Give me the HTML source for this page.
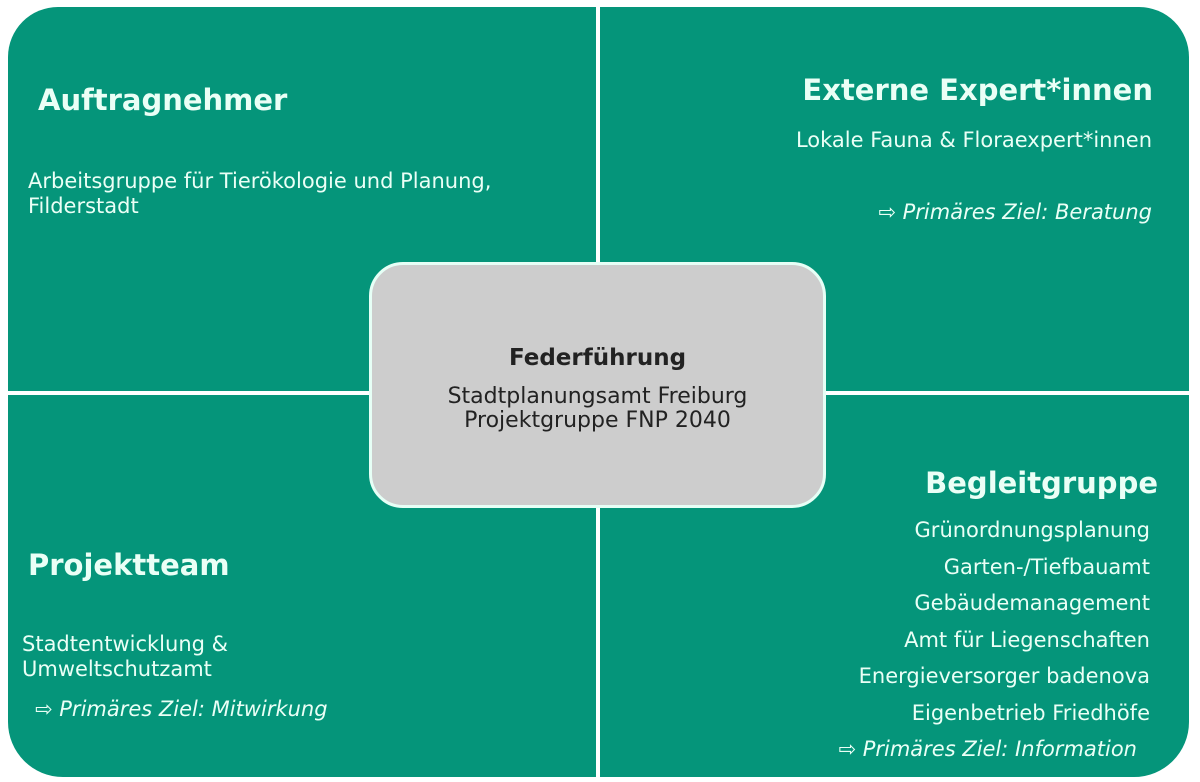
<!DOCTYPE html>
<html><head><meta charset="utf-8"><style>
body{margin:0;width:1200px;height:782px;background:#fff;position:relative;overflow:hidden;font-family:"DejaVu Sans","Liberation Sans",sans-serif;}
.q{position:absolute;background:#05957a;}
.t{position:absolute;color:#eafff6;white-space:nowrap;line-height:30px;}
.h{font-size:29px;font-weight:bold;}
.b{font-size:21px;}
.r{text-align:right;}
.i{font-style:italic;}
</style></head><body>
<div class="q" style="left:8px;top:7px;width:588px;height:384px;border-top-left-radius:50px;"></div>
<div class="q" style="left:600px;top:7px;width:589px;height:384px;border-top-right-radius:50px;"></div>
<div class="q" style="left:8px;top:395px;width:588px;height:382px;border-bottom-left-radius:55px;"></div>
<div class="q" style="left:600px;top:395px;width:589px;height:382px;border-bottom-right-radius:55px;"></div>
<div style="position:absolute;left:369px;top:262px;width:451px;height:240px;background:#cdcdcd;border:3px solid #e6fff6;border-radius:34px;"></div>

<div class="t h" style="left:38px;top:85px;">Auftragnehmer</div>
<div class="t b" style="left:28px;top:169px;line-height:25px;">Arbeitsgruppe für Tierökologie und Planung,<br>Filderstadt</div>

<div class="t h r" style="right:47px;top:75px;">Externe Expert*innen</div>
<div class="t b r" style="right:48px;top:125px;">Lokale Fauna &amp; Floraexpert*innen</div>
<div class="t b r i" style="right:48px;top:197px;">⇨ Primäres Ziel: Beratung</div>

<div class="t" style="left:369px;width:457px;text-align:center;top:343px;font-size:23px;font-weight:bold;color:#222;">Federführung</div>
<div class="t" style="left:369px;width:457px;text-align:center;top:385px;font-size:22px;line-height:24px;color:#222;">Stadtplanungsamt Freiburg<br>Projektgruppe FNP 2040</div>

<div class="t h r" style="right:42px;top:468px;">Begleitgruppe</div>
<div class="t b r" style="right:50px;top:512px;line-height:36.6px;">Grünordnungsplanung<br>Garten-/Tiefbauamt<br>Gebäudemanagement<br>Amt für Liegenschaften<br>Energieversorger badenova<br>Eigenbetrieb Friedhöfe</div>
<div class="t b r i" style="right:63px;top:734px;">⇨ Primäres Ziel: Information</div>

<div class="t h" style="left:28px;top:550px;">Projektteam</div>
<div class="t b" style="left:22px;top:632px;line-height:25px;">Stadtentwicklung &amp;<br>Umweltschutzamt</div>
<div class="t b i" style="left:35px;top:694px;">⇨ Primäres Ziel: Mitwirkung</div>
</body></html>
